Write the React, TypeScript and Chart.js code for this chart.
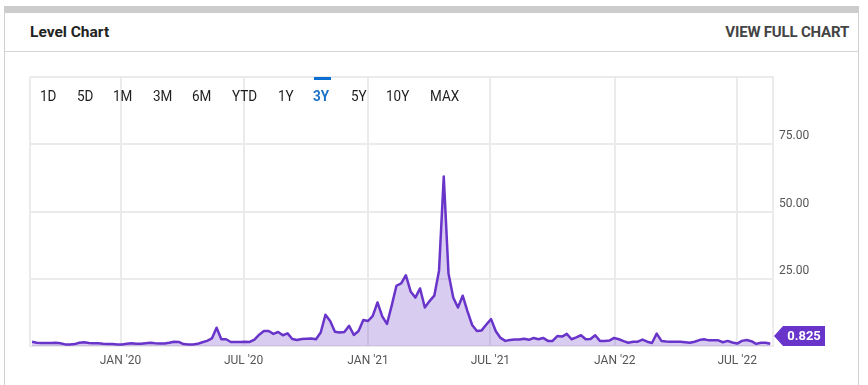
import React, { useEffect, useRef } from 'react';
import { Chart, registerables } from 'chart.js';

Chart.register(...registerables);

// Weekly readings starting on START_DATE
const START_DATE = '2019-08-23';
const levels: number[] = [
  1.6, 1.2, 1.1, 1.1, 1.1, 1.2, 1.0, 0.6, 0.6, 0.7,
  1.2, 1.4, 1.1, 1.0, 1.0, 0.8, 0.7, 0.7, 0.6, 0.6,
  0.8, 1.0, 0.8, 0.8, 1.0, 1.2, 1.0, 0.9, 0.9, 1.2,
  1.6, 1.5, 0.7, 0.6, 0.6, 0.8, 1.4, 1.9, 2.8, 6.8,
  2.5, 2.5, 1.5, 1.5, 1.5, 1.6, 1.5, 2.4, 4.2, 5.6,
  5.6, 4.5, 5.2, 4.0, 4.7, 2.6, 2.2, 2.6, 2.7, 2.8,
  2.5, 5.0, 11.6, 9.3, 5.3, 5.0, 5.2, 7.5, 4.1, 5.6,
  9.7, 9.3, 11.2, 16.2, 11.0, 8.2, 15.0, 22.4, 23.3, 26.3,
  20.3, 18.0, 21.4, 14.3, 16.7, 18.7, 28.0, 63.0, 27.0, 18.0,
  14.3, 18.7, 13.0, 7.8, 5.6, 5.8, 8.0, 10.0, 5.5, 3.0,
  1.9, 2.2, 2.4, 2.4, 2.7, 2.3, 3.0, 2.5, 3.0, 1.9,
  1.9, 3.7, 3.5, 4.5, 2.5, 3.2, 4.0, 2.5, 2.6, 4.0,
  1.9, 1.9, 2.0, 3.0, 2.5, 1.8, 1.2, 1.6, 1.6, 2.4,
  1.6, 1.1, 4.6, 1.9, 1.7, 1.6, 1.6, 1.6, 1.4, 1.2,
  1.6, 2.2, 2.5, 2.1, 2.1, 2.1, 1.4, 1.9, 1.3, 0.9,
  1.9, 2.2, 1.8, 0.8, 1.2, 1.2, 0.825,
];
const X_MIN_DATE = '2019-08-20';
const X_MAX_DATE = '2022-08-23';
const tickDates = ['2020-01-01', '2020-07-01', '2021-01-01', '2021-07-01', '2022-01-01', '2022-07-01'];
const tickLabels = ["JAN '20", "JUL '20", "JAN '21", "JUL '21", "JAN '22", "JUL '22"];
const yTickValues = [0, 25, 50, 75, 100];
const yHiddenLabels = [0, 100];
const ranges = ['1D', '5D', '1M', '3M', '6M', 'YTD', '1Y', '3Y', '5Y', '10Y', 'MAX'];
const activeRange = '3Y';
const lastLabel = '0.825';
const title = 'Level Chart';
const linkText = 'VIEW FULL CHART';

const LINE = '#6934c9';
const FILL = 'rgba(105,52,201,0.25)';
const GRID = '#ebebeb';

const rangeLeft = [40, 77, 113, 153, 192, 232, 278, 313, 351, 386, 430];

const dayNum = (s: string) => Math.round(Date.parse(s + 'T00:00:00Z') / 86400000);

export default function App() {
  const ref = useRef<HTMLCanvasElement | null>(null);

  useEffect(() => {
    if (!ref.current) return;
    const start = dayNum(START_DATE);
    const points = levels.map((v, i) => ({ x: start + 7 * i, y: v }));
    const tickDays = tickDates.map(dayNum);
    const xMin = dayNum(X_MIN_DATE);
    const xMax = dayNum(X_MAX_DATE);

    const tagPlugin = {
      id: 'lastTag',
      afterDatasetsDraw(chart: any) {
        const meta = chart.getDatasetMeta(0);
        const pt = meta.data[meta.data.length - 1];
        const { ctx, chartArea } = chart;
        const cy = Math.min(pt.y, chartArea.bottom - 10);
        const x0 = chartArea.right;
        ctx.save();
        ctx.fillStyle = LINE;
        ctx.beginPath();
        ctx.moveTo(x0 + 1, cy);
        ctx.lineTo(x0 + 10, cy - 10);
        ctx.lineTo(x0 + 52, cy - 10);
        ctx.lineTo(x0 + 52, cy + 10);
        ctx.lineTo(x0 + 10, cy + 10);
        ctx.closePath();
        ctx.fill();
        ctx.fillStyle = '#ffffff';
        ctx.font = 'bold 13px Roboto';
        ctx.textAlign = 'center';
        ctx.textBaseline = 'middle';
        ctx.fillText(lastLabel, x0 + 31, cy + 1);
        ctx.restore();
      },
    };

    const chart = new Chart(ref.current, {
      type: 'line',
      data: {
        datasets: [
          {
            data: points,
            borderColor: LINE,
            backgroundColor: FILL,
            borderWidth: 2.5,
            fill: 'origin',
            tension: 0,
            pointRadius: 0,
            borderJoinStyle: 'round',
          },
        ],
      },
      options: {
        animation: false,
        responsive: false,
        layout: { padding: { left: 30, top: 77, right: 0, bottom: 0 } },
        plugins: { legend: { display: false }, tooltip: { enabled: false } },
        scales: {
          x: {
            type: 'linear',
            min: xMin,
            max: xMax,
            afterBuildTicks: (scale: any) => {
              scale.ticks = [xMin, ...tickDays, xMax].map((v) => ({ value: v }));
            },
            afterFit: (scale: any) => {
              scale.height = 39;
            },
            ticks: {
              autoSkip: false,
              maxRotation: 0,
              padding: 8,
              color: '#555555',
              font: { family: 'Roboto', size: 12 },
              callback: (_v: any, idx: number) =>
                idx === 0 || idx === tickDays.length + 1 ? '' : tickLabels[idx - 1],
            },
            grid: { color: GRID, lineWidth: 2, drawTicks: false },
            border: { color: GRID, width: 2 },
          },
          y: {
            position: 'right',
            min: 0,
            max: 100,
            afterBuildTicks: (scale: any) => {
              scale.ticks = yTickValues.map((v) => ({ value: v }));
            },
            afterFit: (scale: any) => {
              scale.width = 95;
            },
            ticks: {
              padding: 6,
              labelOffset: -8,
              color: '#555555',
              font: { family: 'Roboto', size: 12 },
              callback: (v: any) => (yHiddenLabels.includes(Number(v)) ? '' : Number(v).toFixed(2)),
            },
            grid: { color: GRID, lineWidth: 2, drawTicks: false },
            border: { color: GRID, width: 2 },
          },
        },
      },
      plugins: [tagPlugin],
    } as any);

    return () => chart.destroy();
  }, []);

  return (
    <div
      style={{
        position: 'absolute',
        left: 0,
        top: 0,
        width: 868,
        height: 385,
        background: '#ffffff',
        overflow: 'hidden',
        fontFamily: 'Roboto, sans-serif',
      }}
    >
      <div
        style={{
          position: 'absolute',
          left: 4,
          top: 6,
          width: 853,
          height: 374,
          borderTop: '7px solid #cccccc',
          borderLeft: '1px solid #d0d0d0',
          borderRight: '1px solid #d0d0d0',
          borderBottom: '1px solid #d0d0d0',
          boxSizing: 'content-box',
        }}
      />
      <div
        style={{
          position: 'absolute',
          left: 5,
          top: 51,
          width: 853,
          height: 1,
          background: '#d5d5d5',
        }}
      />
      <div
        style={{
          position: 'absolute',
          left: 30,
          top: 23,
          fontSize: 15.5,
          fontWeight: 700,
          lineHeight: '18px',
          color: '#222222',
          whiteSpace: 'nowrap',
        }}
      >
        {title}
      </div>
      <div
        style={{
          position: 'absolute',
          right: 868 - 849,
          top: 23,
          fontSize: 15,
          fontWeight: 700,
          lineHeight: '18px',
          color: '#444444',
          letterSpacing: -0.2,
          whiteSpace: 'nowrap',
        }}
      >
        {linkText}
      </div>
      <canvas
        ref={ref}
        width={868}
        height={385}
        style={{ position: 'absolute', left: 0, top: 0, width: 868, height: 385 }}
      />
      {ranges.map((r, i) => (
        <div
          key={r}
          style={{
            position: 'absolute',
            left: rangeLeft[i],
            top: 88,
            fontSize: 15,
            lineHeight: '16px',
            fontWeight: r === activeRange ? 700 : 400,
            color: r === activeRange ? '#1a72c8' : '#1e1e1e',
            transform: 'scaleX(0.9)',
            transformOrigin: 'left center',
            whiteSpace: 'nowrap',
          }}
        >
          {r}
        </div>
      ))}
      <div
        style={{
          position: 'absolute',
          left: 314,
          top: 77,
          width: 17,
          height: 3,
          background: '#0b6fd1',
        }}
      />
    </div>
  );
}
